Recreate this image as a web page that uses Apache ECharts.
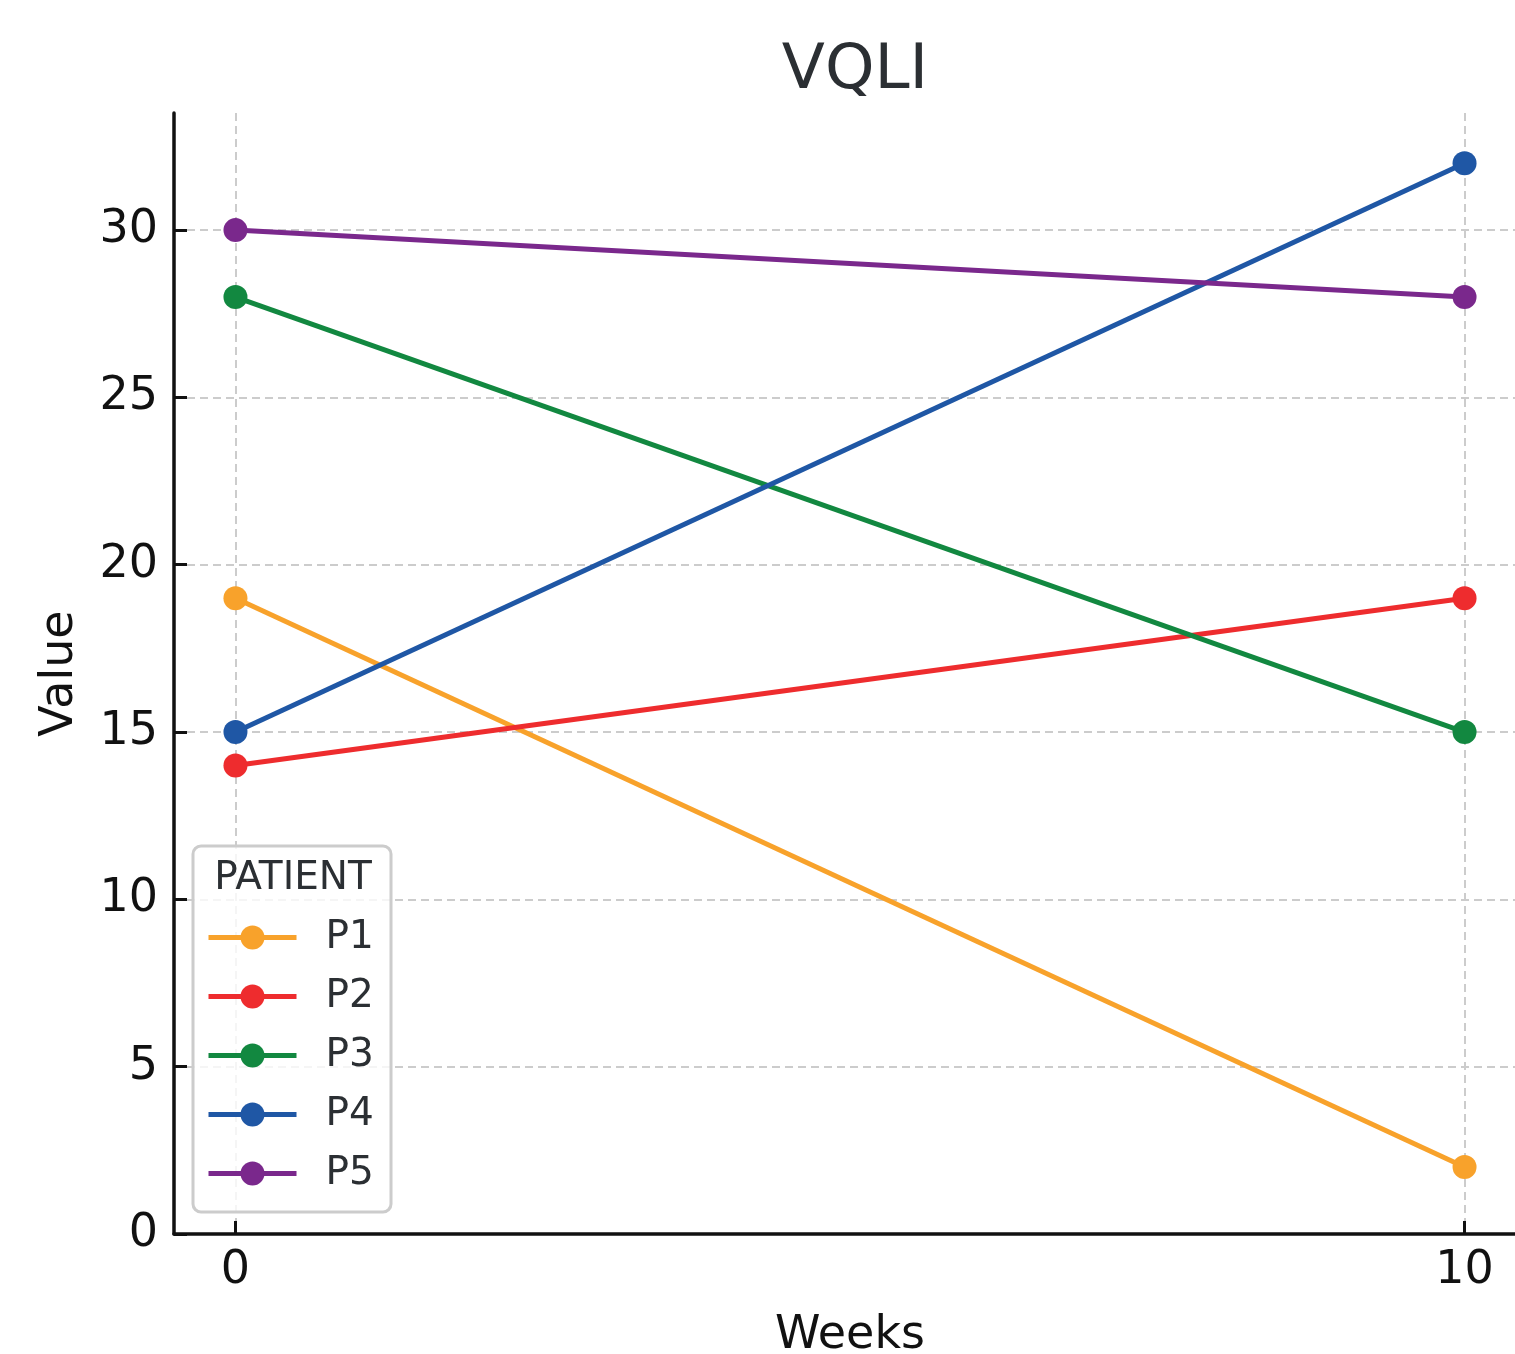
<!DOCTYPE html>
<html>
<head>
<meta charset="utf-8">
<script src="https://cdn.jsdelivr.net/npm/echarts@6/dist/echarts.min.js"></script>
<style>html,body{margin:0;padding:0;background:#fff;}#c{width:1515px;height:1354px;}</style>
</head>
<body>
<div id="c"></div>
<script>
// ---- data ----
const weeks = [0, 10];
const patients = ['P1', 'P2', 'P3', 'P4', 'P5'];
const P1 = [19, 2];
const P2 = [14, 19];
const P3 = [28, 15];
const P4 = [15, 32];
const P5 = [30, 28];
const seriesValues = [P1, P2, P3, P4, P5];
const colors = ['#F8A22B', '#EE2C2E', '#128840', '#1F57A5', '#7A288C'];
const title = 'VQLI';
const xName = 'Weeks';
const yName = 'Value';
const legendTitle = 'PATIENT';

// ---- layout ----
const FONT = 'DejaVu Sans';
const L = 174, T = 113, W = 1352, H = 1121;
const xMin = -0.5, xMax = 10.5, yMin = 0, yMax = 33.5;
const px = W / (xMax - xMin), py = H / (yMax - yMin);
const x0 = L + (0 - xMin) * px, x1 = L + (10 - xMin) * px;
const yTop30 = T + (yMax - 30) * py;

const chart = echarts.init(document.getElementById('c'), null, {renderer: 'canvas'});
const dash = {color: '#cccccc', width: 2, type: [8, 5]};
const noZeroLine = {show: false, onZero: false};

const option = {
  animation: false,
  backgroundColor: '#ffffff',
  title: {
    text: title, left: L + W / 2, top: 35, textAlign: 'center',
    textStyle: {fontFamily: FONT, fontSize: 63, fontWeight: 'normal', color: '#2b2f33'}
  },
  grid: [
    {left: L, top: T, width: W, height: H, outerBoundsMode: 'none', containLabel: false},
    {left: L, top: yTop30, width: W, height: T + H - yTop30, outerBoundsMode: 'none', containLabel: false},
    {left: x0, top: T, width: x1 - x0, height: H, outerBoundsMode: 'none', containLabel: false}
  ],
  xAxis: [
    {gridIndex: 0, type: 'value', min: xMin, max: xMax, z: 6,
     axisLine: {show: true, onZero: false, lineStyle: {color: '#111', width: 3.5}},
     axisTick: {show: false}, axisLabel: {show: false}, splitLine: {show: false},
     name: xName, nameLocation: 'middle', nameGap: 79,
     nameTextStyle: {fontFamily: FONT, fontSize: 46, color: '#111'}},
    {gridIndex: 1, type: 'value', min: xMin, max: xMax, show: false, axisLine: noZeroLine},
    {gridIndex: 2, type: 'value', min: 0, max: 10, interval: 10,
     axisLine: noZeroLine,
     axisTick: {show: true, inside: true, length: 13, lineStyle: {color: '#111', width: 3}},
     axisLabel: {show: true, margin: 14, fontFamily: FONT, fontSize: 46, color: '#111'},
     splitLine: {show: true, lineStyle: dash}}
  ],
  yAxis: [
    {gridIndex: 0, type: 'value', min: yMin, max: yMax, z: 6,
     axisLine: {show: true, onZero: false, lineStyle: {color: '#111', width: 3.5}},
     axisTick: {show: false}, axisLabel: {show: false}, splitLine: {show: false},
     name: yName, nameLocation: 'middle', nameGap: 91, nameRotate: 90,
     nameTextStyle: {fontFamily: FONT, fontSize: 46, color: '#111'}},
    {gridIndex: 1, type: 'value', min: 0, max: 30, interval: 5,
     axisLine: noZeroLine,
     axisTick: {show: true, inside: true, length: 13, lineStyle: {color: '#111', width: 3}},
     axisLabel: {show: true, margin: 16, fontFamily: FONT, fontSize: 46, color: '#111'},
     splitLine: {show: true, lineStyle: dash}},
    {gridIndex: 2, type: 'value', min: yMin, max: yMax, show: false, axisLine: noZeroLine}
  ],
  legend: {
    orient: 'vertical', left: 206, top: 918, z: 10, padding: 0,
    itemWidth: 88, itemHeight: 30, itemGap: 20,
    data: patients,
    lineStyle: {width: 5},
    textStyle: {fontFamily: FONT, fontSize: 39, color: '#2b2f33', padding: [0, 0, 0, 24]}
  },
  graphic: [
    {type: 'rect', z: 8, shape: {x: 193, y: 846, width: 198, height: 366, r: 8},
     style: {fill: 'rgba(255,255,255,0.8)', stroke: '#cccccc', lineWidth: 3}},
    {type: 'text', z: 9, x: 293, y: 879,
     style: {text: legendTitle, fontFamily: FONT, fontSize: 39, fill: '#2b2f33',
             textAlign: 'center', textVerticalAlign: 'middle'}}
  ],
  series: patients.map((p, i) => ({
    name: p, type: 'line', xAxisIndex: 2, yAxisIndex: 2,
    data: weeks.map((w, j) => [w, seriesValues[i][j]]),
    symbol: 'circle', symbolSize: 24, showSymbol: true,
    lineStyle: {color: colors[i], width: 5},
    itemStyle: {color: colors[i]},
    emphasis: {disabled: true}
  }))
};
chart.setOption(option);
</script>
</body>
</html>
